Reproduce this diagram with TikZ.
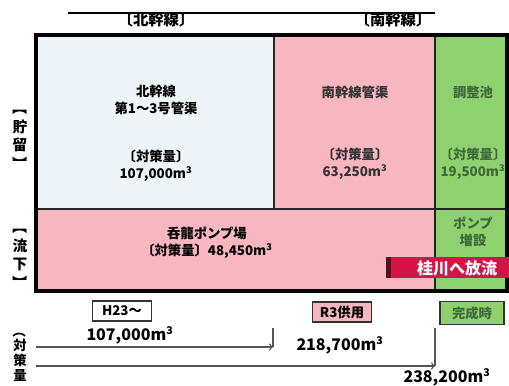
\documentclass[tikz,border=0pt]{standalone}
\usepackage{fontspec}
\setmainfont{Noto Sans CJK JP}
\usetikzlibrary{positioning}
\definecolor{northblue}{HTML}{EEF5F8}
\definecolor{southpink}{HTML}{F8B6C0}
\definecolor{pondgreen}{HTML}{8FD16F}
\definecolor{riverred}{HTML}{D41446}
\definecolor{riverdark}{HTML}{5A0C1E}
\definecolor{greentext}{HTML}{3E6A3A}
\definecolor{arrowgray}{HTML}{555555}
\providecommand{\cubic}{m\textsuperscript{3}}
\providecommand{\turned}[1]{\rotatebox[origin=c]{-90}{#1}}

\begin{document}
\begin{tikzpicture}[x=0.75pt, y=-0.75pt,
  every node/.style={font=\bfseries\fontsize{10}{12.5}\selectfont, inner sep=0pt},
  area/.style={draw=black!85, line width=1.8pt},
  sidelabel/.style={align=center, font=\bfseries\fontsize{11}{14}\selectfont},
  tagbox/.style={draw=black!80, line width=1pt, minimum width=44pt, minimum height=15pt, font=\bfseries\fontsize{10}{12}\selectfont},
  volume/.style={font=\bfseries\fontsize{12}{14}\selectfont},
  arr/.style={->, draw=arrowgray, line width=1pt}]
  \useasboundingbox (0,0) rectangle (509,385);
  % title rule and trunk names
  \coordinate (tl) at (68,13);
  \coordinate (tr) at (435,13);
  \draw[line width=1.5pt] (tl) -- (tr);
  \node[font=\bfseries\fontsize{11.5}{14}\selectfont] (north) at (156,20) {〔北幹線〕};
  \node[font=\bfseries\fontsize{11.5}{14}\selectfont] (south) at (393,20) {〔南幹線〕};
  % storage row
  \fill[northblue] (37,35) rectangle (274,209);
  \fill[southpink] (274,35) rectangle (435,209);
  \fill[pondgreen] (435,35) rectangle (507,209);
  % flow row
  \fill[southpink] (37,209) rectangle (435,291);
  \fill[pondgreen] (435,209) rectangle (507,291);
  \draw[area] (274,35) -- (274,209);
  \draw[area] (435,35) -- (435,291);
  \draw[area] (37,209) -- (507,209);
  \draw[black, line width=2.4pt] (36,35) rectangle (507,291);
  % outlet band
  \fill[riverred] (386,257) rectangle (509,278);
  \fill[riverdark] (386,257) rectangle (391,278);
  \node[text=white, font=\bfseries\fontsize{12}{14}\selectfont] (outlet) at (457,268) {桂川へ放流};
  % texts in the boxes
  \node[align=center] (ntitle) at (156,100) {北幹線\\第1～3号管渠};
  \node[align=center] (nvol) at (156,166) {〔対策量〕\\107,000\cubic};
  \node[text=black!80] (stitle) at (355,92) {南幹線管渠};
  \node[align=center, text=black!80] (svol) at (355,164) {〔対策量〕\\63,250\cubic};
  \node[text=greentext] (ptitle) at (473,92) {調整池};
  \node[align=center, text=greentext] (pvol) at (473,164) {〔対策量〕\\19,500\cubic};
  \node[align=center] (pump) at (207,243) {呑龍ポンプ場\\〔対策量〕48,450\cubic};
  \node[align=center, text=greentext] (addpump) at (473,232) {ポンプ\\増設};
  % side labels
  \node[sidelabel] (store) at (20,136) {\turned{【}\\貯\\留\\\turned{】}};
  \node[sidelabel] (flow) at (20,255) {\turned{【}\\流\\下\\\turned{】}};
  \node[sidelabel, anchor=north, font=\bfseries\fontsize{10}{11}\selectfont] (measure) at (20,324) {\turned{（}\\対\\策\\量};
  % stages
  \node[tagbox, fill=white] (h23) at (122,311) {H23～};
  \node[tagbox, fill=southpink] (r3) at (342,312) {R3供用};
  \node[tagbox, fill=pondgreen, text=greentext, minimum width=48pt, minimum height=17pt] (done) at (472,313) {完成時};
  \node[volume] (v1) at (130,335) {107,000\cubic};
  \node[volume] (v2) at (340,345) {218,700\cubic};
  \node[volume] (v3) at (447,377) {238,200\cubic};
  % totals arrows
  \coordinate (s1) at (36,347);
  \coordinate (e1) at (273,347);
  \coordinate (k1) at (273,328);
  \coordinate (s2) at (36,366);
  \coordinate (e2) at (435,366);
  \coordinate (k2) at (435,328);
  \draw[arr] (s1) -- (e1);
  \draw[arrowgray, line width=1pt] (k1) -- (e1);
  \draw[arr] (s2) -- (e2);
  \draw[arrowgray, line width=1pt] (k2) -- (e2);
\end{tikzpicture}
\end{document}
